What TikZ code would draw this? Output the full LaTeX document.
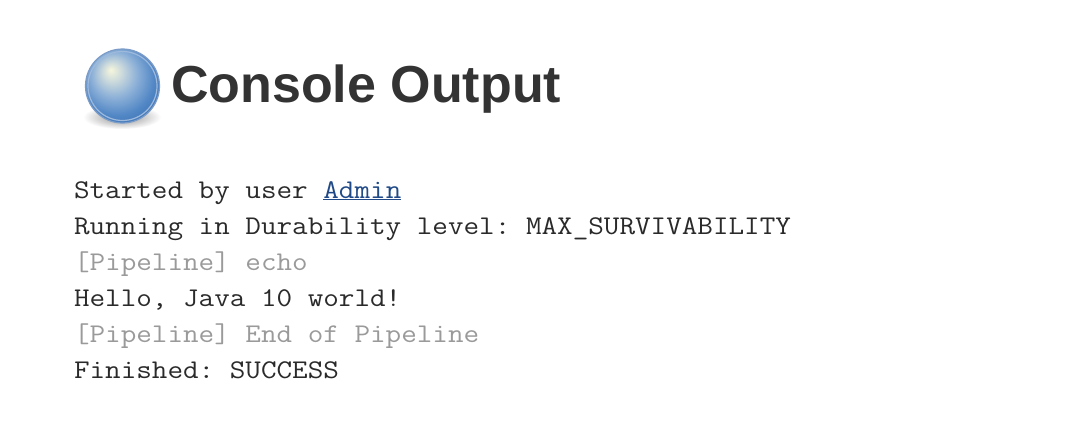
\documentclass[tikz,border=0pt]{standalone}
\usepackage{fontspec}
\setmainfont{Liberation Sans}
\setmonofont[FakeStretch=1.121]{Latin Modern Mono}
\definecolor{titlec}{HTML}{333333}
\definecolor{linec}{HTML}{2A2A2A}
\definecolor{greyc}{HTML}{9A9A9A}
\definecolor{linkc}{HTML}{204A87}
\definecolor{ballrim}{HTML}{7C9CC8}
\definecolor{ballring}{HTML}{9DB9DC}
\definecolor{ba}{HTML}{F6F6DC}
\definecolor{bb}{HTML}{CFDCDC}
\definecolor{bc}{HTML}{8FB2D8}
\definecolor{bd}{HTML}{5388C6}
\definecolor{be}{HTML}{3468AE}
\definecolor{bf}{HTML}{2A5A9C}
\tikzset{
 x=1pt,y=-1pt,
 outl/.style={anchor=base west,inner sep=0pt,outer sep=0pt,font=\fontsize{27}{32}\selectfont\ttfamily,text=linec},
 pipe/.style={outl,text=greyc},
 ttl/.style={anchor=base west,inner sep=0pt,font=\fontsize{52}{60}\selectfont\bfseries,text=titlec}
}
\pgfdeclareradialshading{ballsh}{\pgfpoint{-8bp}{11bp}}{
 color(0bp)=(ba);
 color(6bp)=(bb);
 color(15bp)=(bc);
 color(25bp)=(bd);
 color(36bp)=(be);
 color(50bp)=(bf)}
\begin{document}
\begin{tikzpicture}
\useasboundingbox (0,0) rectangle (1070,436);
\fill[white] (0,0) rectangle (1070,436);
\shade[inner color=black!45,outer color=white] (122,117) ellipse (39 and 12);
\shade[shading=ballsh,draw=ballrim,line width=1.2pt] (122.5,86) circle (37);
\draw[ballring,line width=1.2pt] (122.5,86) circle (34.5);
\node[ttl] (title) at (171,102) {Console Output};
\node[outl] (l1) at (74,198) {Started by user \textcolor{linkc}{\underline{Admin}}};
\node[outl] (l2) at (74,234) {Running in Durability level: MAX\_SURVIVABILITY};
\node[pipe] (l3) at (74,270) {[Pipeline] echo};
\node[outl] (l4) at (74,306) {Hello, Java 10 world!};
\node[pipe] (l5) at (74,342) {[Pipeline] End of Pipeline};
\node[outl] (l6) at (74,378) {Finished: SUCCESS};
\end{tikzpicture}
\end{document}
